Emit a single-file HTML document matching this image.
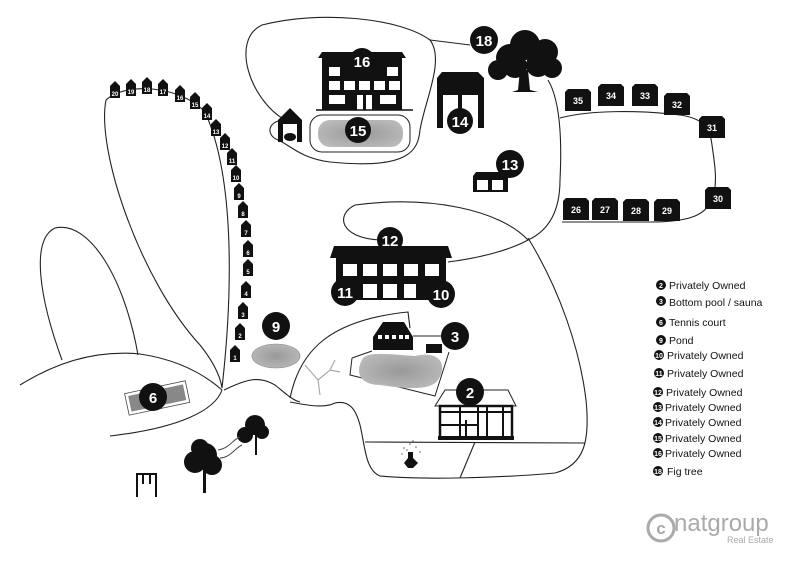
<!DOCTYPE html>
<html><head><meta charset="utf-8"><style>
html,body{margin:0;padding:0;background:#fff;width:800px;height:566px;overflow:hidden}
svg{display:block}
text{font-family:"Liberation Sans",Arial,sans-serif}
.n{fill:#fff;font-weight:bold;text-anchor:middle}
.l{font-size:10.5px;fill:#111}
.ln{fill:none;stroke:#222;stroke-width:1.1}
</style></head><body>
<svg width="800" height="566" viewBox="0 0 800 566" xmlns="http://www.w3.org/2000/svg">
<defs>
<radialGradient id="g" cx="50%" cy="50%" r="60%"><stop offset="0" stop-color="#999"/><stop offset="1" stop-color="#bbb"/></radialGradient>
<g id="h"><path d="M-5,-6 L0,-11 L5,-6 L5,6 L-5,6Z" fill="#111"/></g>
<g id="c"><path d="M-13,-8 L-10,-11 L10,-11 L13,-8 L13,11 L-13,11Z" fill="#111"/></g>
</defs>

<!-- roads -->
<g class="ln">
<path d="M222,388 C232,300 236,180 205,112 C180,85 125,82 106,100 C96,150 140,280 200,345 C212,360 220,375 222,388"/>
<path d="M20,385 C60,360 100,350 140,354 C180,360 205,375 222,390"/>
<path d="M62,360 C40,300 30,240 55,228 C90,220 125,280 138,355"/>
<path d="M222,390 C215,410 180,428 110,436"/>
<path d="M224,390 C245,380 258,375 275,385 C285,393 292,400 300,402"/>
<path d="M290,398 C300,350 330,320 408,312 L410,328"/>
<path d="M290,402 C310,406 325,408 335,403 C350,400 356,410 360,425 C365,445 365,470 380,476 C420,480 500,478 555,473 C585,465 590,440 586,400 C580,350 560,290 528,238"/>
<path d="M365,442 L585,443"/>
<path d="M475,442 L460,478"/>
<path d="M285,120 C250,100 230,40 262,25 C320,10 400,18 430,40 C445,60 425,100 420,130 C418,150 410,170 330,162 C300,158 290,145 278,140 C265,135 268,120 285,120"/>
<path d="M430,40 L470,45"/>
<path d="M548,80 C560,100 562,140 560,180 C560,210 550,230 528,240 C500,210 430,195 355,205 C335,215 340,238 380,240"/>
<path d="M560,118 C590,110 640,110 680,115 C700,118 710,125 712,145 C715,165 718,185 712,200 C705,215 690,222 650,222 L562,222"/>
<path d="M448,262 C480,258 510,250 528,240"/>
</g>

<!-- left houses -->
<g>
<use href="#h" x="115" y="92"/><text x="115" y="96" class="n" font-size="6">20</text>
<use href="#h" x="131" y="90"/><text x="131" y="94" class="n" font-size="6">19</text>
<use href="#h" x="147" y="88"/><text x="147" y="92" class="n" font-size="6">18</text>
<use href="#h" x="163" y="90"/><text x="163" y="94" class="n" font-size="6">17</text>
<use href="#h" x="180" y="96"/><text x="180" y="100" class="n" font-size="6">16</text>
<use href="#h" x="195" y="103"/><text x="195" y="107" class="n" font-size="6">15</text>
<use href="#h" x="207" y="114"/><text x="207" y="118" class="n" font-size="6">14</text>
<use href="#h" x="216" y="130"/><text x="216" y="134" class="n" font-size="6">13</text>
<use href="#h" x="225" y="144"/><text x="225" y="148" class="n" font-size="6">12</text>
<use href="#h" x="232" y="159"/><text x="232" y="163" class="n" font-size="6">11</text>
<use href="#h" x="236" y="176"/><text x="236" y="180" class="n" font-size="6">10</text>
<use href="#h" x="239" y="194"/><text x="239" y="198" class="n" font-size="6">9</text>
<use href="#h" x="243" y="212"/><text x="243" y="216" class="n" font-size="6">8</text>
<use href="#h" x="246" y="231"/><text x="246" y="235" class="n" font-size="6">7</text>
<use href="#h" x="248" y="251"/><text x="248" y="255" class="n" font-size="6">6</text>
<use href="#h" x="248" y="270"/><text x="248" y="274" class="n" font-size="6">5</text>
<use href="#h" x="246" y="292"/><text x="246" y="296" class="n" font-size="6">4</text>
<use href="#h" x="243" y="313"/><text x="243" y="317" class="n" font-size="6">3</text>
<use href="#h" x="240" y="334"/><text x="240" y="338" class="n" font-size="6">2</text>
<use href="#h" x="235" y="356"/><text x="235" y="360" class="n" font-size="6">1</text>
</g>

<!-- right chalets -->
<g font-size="9">
<use href="#c" x="578" y="100"/><text x="578" y="104" class="n" font-weight="normal">35</text>
<use href="#c" x="611" y="95"/><text x="611" y="99" class="n" font-weight="normal">34</text>
<use href="#c" x="645" y="95"/><text x="645" y="99" class="n" font-weight="normal">33</text>
<use href="#c" x="677" y="104"/><text x="677" y="108" class="n" font-weight="normal">32</text>
<use href="#c" x="712" y="127"/><text x="712" y="131" class="n" font-weight="normal">31</text>
<use href="#c" x="718" y="198"/><text x="718" y="202" class="n" font-weight="normal">30</text>
<use href="#c" x="576" y="209"/><text x="576" y="213" class="n" font-weight="normal">26</text>
<use href="#c" x="605" y="209"/><text x="605" y="213" class="n" font-weight="normal">27</text>
<use href="#c" x="636" y="210"/><text x="636" y="214" class="n" font-weight="normal">28</text>
<use href="#c" x="667" y="210"/><text x="667" y="214" class="n" font-weight="normal">29</text>
</g>

<!-- 16 building -->
<path d="M318,58 L322,52 L402,52 L406,58 L402,58 L402,110 L322,110 L322,58Z" fill="#111"/>
<g fill="#fff"><rect x="329" y="67" width="11" height="9"/><rect x="387" y="67" width="11" height="9"/>
<rect x="329" y="81" width="11" height="9"/><rect x="344" y="81" width="11" height="9"/><rect x="359" y="81" width="11" height="9"/><rect x="374" y="81" width="11" height="9"/><rect x="389" y="81" width="11" height="9"/>
<rect x="329" y="95" width="16" height="9"/><rect x="357" y="95" width="6" height="15"/><rect x="366" y="95" width="6" height="15"/><rect x="380" y="95" width="16" height="9"/></g>
<line x1="316" y1="110" x2="413" y2="110" stroke="#111" stroke-width="1.5"/>
<circle cx="362" cy="61" r="13" fill="#111"/><text x="362" y="67" class="n" font-size="15">16</text>
<!-- 15 pool -->
<rect x="310" y="115" width="100" height="37" rx="12" fill="#fff" stroke="#222"/>
<rect x="318" y="120" width="85" height="27" rx="12" fill="url(#g)"/>
<circle cx="358" cy="130" r="13" fill="#111"/><text x="358" y="136" class="n" font-size="15">15</text>
<!-- small hut -->
<path d="M278,120 L290,108 L302,120 L302,142 L297,142 L297,124 L283,124 L283,142 L278,142Z" fill="#111"/>
<ellipse cx="290" cy="137" rx="6" ry="4" fill="#111"/>
<!-- 14 -->
<path d="M437,78 L442,72 L478,72 L484,78 L484,128 L478,128 L478,95 L443,95 L443,128 L437,128Z" fill="#111"/>
<rect x="458" y="95" width="4" height="20" fill="#111"/>
<circle cx="460" cy="121" r="13" fill="#111"/><text x="460" y="127" class="n" font-size="15">14</text>
<!-- 18 tree -->
<circle cx="484" cy="40" r="14" fill="#111"/><text x="484" y="46" class="n" font-size="15">18</text>
<g fill="#111"><circle cx="510" cy="58" r="14"/><circle cx="525" cy="45" r="15"/><circle cx="545" cy="52" r="13"/><circle cx="552" cy="68" r="10"/><circle cx="498" cy="70" r="10"/><circle cx="515" cy="66" r="12"/><circle cx="538" cy="65" r="12"/>
<path d="M520,70 L528,70 L530,90 L538,92 L512,92 L518,90Z"/></g>
<!-- 13 -->
<path d="M473,176 L476,172 L508,172 L508,192 L473,192Z" fill="#111"/>
<rect x="477" y="180" width="11" height="10" fill="#fff"/><rect x="492" y="180" width="11" height="10" fill="#fff"/>
<circle cx="510" cy="164" r="14" fill="#111"/><text x="510" y="170" class="n" font-size="15">13</text>
<!-- 12 building -->
<path d="M330,258 L334,246 L448,246 L452,258 L446,258 L446,300 L336,300 L336,258Z" fill="#111"/>
<g fill="#fff"><rect x="343" y="264" width="14" height="12"/><rect x="363" y="264" width="14" height="12"/><rect x="383" y="264" width="14" height="12"/><rect x="404" y="264" width="14" height="12"/><rect x="425" y="264" width="14" height="12"/>
<rect x="363" y="284" width="14" height="14"/><rect x="383" y="284" width="14" height="14"/><rect x="404" y="284" width="12" height="14"/></g>
<circle cx="390" cy="240" r="13" fill="#111"/><text x="390" y="246" class="n" font-size="15">12</text>
<circle cx="345" cy="292" r="14" fill="#111"/><text x="345" y="298" class="n" font-size="15">11</text>
<circle cx="441" cy="294" r="14" fill="#111"/><text x="441" y="300" class="n" font-size="15">10</text>
<!-- 9 pond -->
<circle cx="276" cy="326" r="14" fill="#111"/><text x="276" y="332" class="n" font-size="15">9</text>
<ellipse cx="276" cy="356" rx="24" ry="12" fill="url(#g)" stroke="#888" stroke-width=".6"/>
<!-- 3 sauna -->
<path d="M373,337 L383,322 L404,322 L413,337 L413,350 L373,350Z" fill="#111"/>
<g fill="#fff"><rect x="378" y="335" width="4" height="4"/><rect x="385" y="335" width="4" height="4"/><rect x="392" y="335" width="4" height="4"/><rect x="399" y="335" width="4" height="4"/><rect x="405" y="335" width="4" height="4"/></g>
<rect x="426" y="344" width="16" height="9" fill="#111"/>
<line x1="413" y1="336" x2="445" y2="336" stroke="#222"/>
<circle cx="455" cy="336" r="14" fill="#111"/><text x="455" y="342" class="n" font-size="15">3</text>
<path d="M352,358 L372,351 M352,358 L350,375 L435,396 L449,352" fill="none" stroke="#222"/>
<path d="M362,360 C365,350 395,355 415,356 C440,350 448,365 438,380 C430,392 400,388 380,385 C360,385 355,372 362,360Z" fill="url(#g)"/>
<!-- dead tree -->
<path d="M320,395 L318,380 L305,365 M318,380 L330,370 L340,372 M330,370 L335,360" fill="none" stroke="#aaa" stroke-width="1.2"/>
<!-- 2 building -->
<path d="M435,406 L445,390 L508,390 L516,406Z" fill="#fff" stroke="#222"/>
<rect x="440" y="406" width="72" height="32" fill="#fff" stroke="#111" stroke-width="2.5"/>
<g stroke="#111" stroke-width="2"><line x1="440" y1="412" x2="512" y2="412"/><line x1="460" y1="406" x2="460" y2="438"/><line x1="466" y1="420" x2="466" y2="438"/><line x1="478" y1="406" x2="478" y2="438"/><line x1="487" y1="406" x2="487" y2="438"/><line x1="503" y1="406" x2="503" y2="438"/><line x1="440" y1="425" x2="460" y2="425"/><line x1="460" y1="425" x2="478" y2="425"/></g>
<rect x="438" y="436" width="76" height="4" fill="#111"/>
<circle cx="470" cy="392" r="14" fill="#111"/><text x="470" y="398" class="n" font-size="15">2</text>
<!-- fountain -->
<path d="M404,463 L408,458 L408,452 L413,452 L413,458 L418,463 L413,468 L408,468Z" fill="#111"/>
<g fill="#666"><circle cx="404" cy="448" r=".8"/><circle cx="410" cy="444" r=".8"/><circle cx="416" cy="447" r=".8"/><circle cx="402" cy="454" r=".8"/><circle cx="420" cy="452" r=".8"/><circle cx="413" cy="441" r=".8"/><circle cx="407" cy="450" r=".8"/></g>
<!-- 6 tennis -->
<g transform="rotate(-12 157 397)"><rect x="126" y="387" width="62" height="22" fill="#fff" stroke="#444" stroke-width=".8"/><rect x="129" y="390" width="56" height="16" fill="#888"/></g>
<circle cx="153" cy="397" r="14" fill="#111"/><text x="153" y="403" class="n" font-size="15">6</text>
<!-- trees bottom -->
<g fill="#111"><circle cx="205" cy="455" r="12"/><circle cx="195" cy="462" r="11"/><circle cx="212" cy="465" r="10"/><circle cx="200" cy="448" r="9"/>
<rect x="203" y="465" width="3" height="28"/><circle cx="255" cy="425" r="10"/><circle cx="245" cy="435" r="8"/><circle cx="262" cy="432" r="7"/><rect x="255" y="430" width="2" height="25"/></g>
<path d="M218,450 C230,448 232,440 240,437 M220,458 C230,458 235,448 242,445" fill="none" stroke="#444"/>
<!-- swing -->
<path d="M137,497 L137,474 L156,474 L156,497 M143,474 L143,484 M150,474 L150,484" fill="none" stroke="#111" stroke-width="2"/>

<!-- legend -->
<g>
<circle cx="661" cy="285" r="5" fill="#111"/><text x="661" y="288" class="n" font-size="7">2</text>
<circle cx="661" cy="301" r="5" fill="#111"/><text x="661" y="304" class="n" font-size="7">3</text>
<circle cx="661" cy="322" r="5" fill="#111"/><text x="661" y="325" class="n" font-size="7">6</text>
<circle cx="661" cy="340" r="5" fill="#111"/><text x="661" y="343" class="n" font-size="7">9</text>
<circle cx="659" cy="355" r="5" fill="#111"/><text x="659" y="358" class="n" font-size="7">10</text>
<circle cx="659" cy="373" r="5" fill="#111"/><text x="659" y="376" class="n" font-size="7">11</text>
<circle cx="658" cy="392" r="5" fill="#111"/><text x="658" y="395" class="n" font-size="7">12</text>
<circle cx="658" cy="407" r="5" fill="#111"/><text x="658" y="410" class="n" font-size="7">13</text>
<circle cx="658" cy="422" r="5" fill="#111"/><text x="658" y="425" class="n" font-size="7">14</text>
<circle cx="658" cy="438" r="5" fill="#111"/><text x="658" y="441" class="n" font-size="7">15</text>
<circle cx="658" cy="453" r="5" fill="#111"/><text x="658" y="456" class="n" font-size="7">16</text>
<circle cx="658" cy="471" r="5" fill="#111"/><text x="658" y="474" class="n" font-size="7">18</text>
</g>
<text x="669" y="289" class="l">Privately Owned</text>
<text x="669" y="306" class="l">Bottom pool / sauna</text>
<text x="669" y="326" class="l">Tennis court</text>
<text x="669" y="344" class="l">Pond</text>
<text x="667" y="359" class="l">Privately Owned</text>
<text x="667" y="377" class="l">Privately Owned</text>
<text x="666" y="396" class="l">Privately Owned</text>
<text x="665" y="411" class="l">Privately Owned</text>
<text x="665" y="426" class="l">Privately Owned</text>
<text x="665" y="442" class="l">Privately Owned</text>
<text x="665" y="457" class="l">Privately Owned</text>
<text x="667" y="475" class="l">Fig tree</text>
<!-- logo -->
<circle cx="661" cy="528" r="13" fill="none" stroke="#aaa" stroke-width="3"/>
<text x="661" y="534" text-anchor="middle" font-size="17" fill="#aaa" font-weight="bold">c</text>
<text x="674" y="531" font-size="24" fill="#aaa">natgroup</text>
<text x="727" y="543" font-size="9" fill="#aaa">Real Estate</text>
</svg>
</body></html>
